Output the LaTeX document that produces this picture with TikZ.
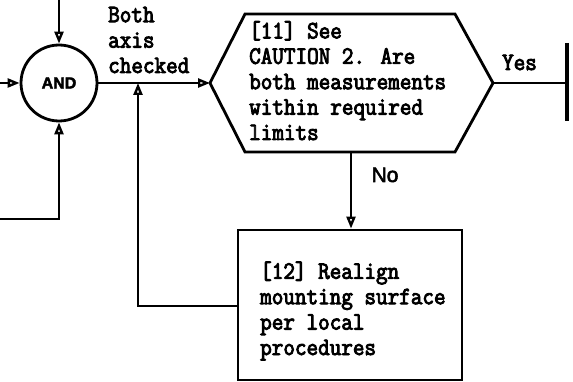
\documentclass[tikz,border=0pt]{standalone}
\usepackage{fontspec}
\usetikzlibrary{arrows.meta}
\newfontfamily\tw{Latin Modern Mono}[FakeStretch=0.9,FakeBold=3.5]
\newfontfamily\hv{Liberation Sans}[FakeBold=2.5]
\tikzset{
  ln/.style={line width=2.8pt},
  arr/.style={ln,-{Triangle[open,length=12pt,width=9pt,line width=2.4pt]}},
  txt/.style={font=\tw\fontsize{25}{25.4}\selectfont,align=left,inner sep=0pt,anchor=base west},
}
\begin{document}
\begin{tikzpicture}[x=1pt,y=-1pt]
\useasboundingbox (0,0) rectangle (573,382);
% AND junction
\node[ln,draw,circle,minimum size=76pt,inner sep=0pt,font=\hv\bfseries\fontsize{16}{16}\selectfont] (and) at (59,83) {AND};
\coordinate (top) at (59,0);
\coordinate (lin) at (0,83);
\coordinate (bin) at (0,219);
\coordinate (bcorner) at (59,219);
\draw[arr] (top) -- (and.north);
\draw[arr] (lin) -- (and.west);
\draw[arr] (bin) -- (bcorner) -- (and.south);
% hexagon
\coordinate (hL) at (210,83);
\coordinate (hTL) at (245,14);
\coordinate (hTR) at (455,14);
\coordinate (hR) at (493,83);
\coordinate (hBR) at (455,152);
\coordinate (hBL) at (245,152);
\coordinate (hB) at (351,152);
\draw[ln,line join=miter] (hL) -- (hTL) -- (hTR) -- (hR) -- (hBR) -- (hBL) -- cycle;
\node[txt] (q) at (249,140) {[11] See\\CAUTION 2. Are\\both measurements\\within required\\limits};
\draw[arr] (and.east) -- (hL);
\node[txt] (lbl) at (108,73) {Both\\axis\\checked};
% yes branch
\coordinate (bar) at (567,83);
\coordinate (barT) at (567,43);
\coordinate (barB) at (567,121);
\draw[ln] (hR) -- (bar);
\draw[line width=4pt] (barT) -- (barB);
\node[txt,anchor=base] (yes) at (519.5,70) {Yes};
% no branch
\node[ln,draw,minimum width=224pt,minimum height=150pt,inner sep=0pt] (r) at (350,305) {};
\node[txt] (rt) at (260,355) {[12] Realign\\mounting surface\\per local\\procedures};
\draw[arr] (hB) -- (hB |- r.north);
\node[font=\hv\fontsize{21}{21}\selectfont,inner sep=0pt,anchor=base] (no) at (385,182) {No};
% feedback
\coordinate (fb) at (138,306);
\coordinate (fj) at (138,83);
\draw[arr] (r.west |- fb) -- (fb) -- (fj);
\end{tikzpicture}
\end{document}
